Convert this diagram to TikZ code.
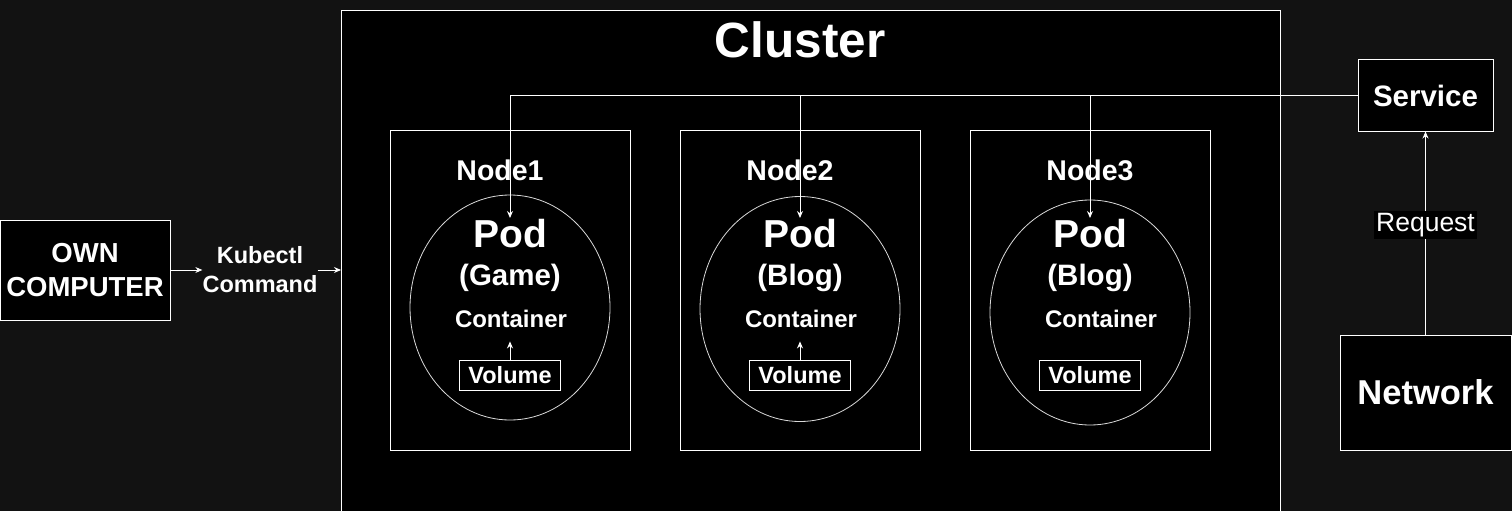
\documentclass[tikz,border=0pt]{standalone}
\usepackage{fontspec}
\setmainfont{Liberation Sans}
\usetikzlibrary{arrows.meta, shapes.geometric, positioning}
\definecolor{canvas}{RGB}{18,18,18}
\newcommand{\pxfont}[2]{\fontsize{#1}{#2}\selectfont}
\tikzset{
  box/.style={draw=white, fill=black, text=white, line width=1pt, inner sep=0pt, font=\bfseries},
  lbl/.style={text=white, font=\bfseries, anchor=base, inner sep=0pt},
  podshape/.style={ellipse, draw=white!85!black, line width=0.8pt, inner sep=0pt},
  link/.style={draw=white, line width=1pt, -{Stealth[length=7pt,width=6pt]}},
}
\begin{document}
\begin{tikzpicture}[x=1pt, y=-1pt]
\fill[canvas] (0,0) rectangle (1512,511);
\useasboundingbox (0,0) rectangle (1512,511);

% Left side: own computer and command
\node[box, minimum width=170, minimum height=100, align=center, font=\bfseries\pxfont{27.5}{34}] (own) at (85,270) {OWN\\COMPUTER};
\node[lbl, anchor=center, align=center, font=\bfseries\pxfont{23.5}{29}] (kubectl) at (260,270) {Kubectl\\Command};

% Cluster
\node[box, minimum width=939, minimum height=505, anchor=north west] (cluster) at (341,10) {};
\node[lbl, font=\bfseries\pxfont{49.5}{49.5}] (clustertitle) at (800,58) {Cluster};

% Worker nodes with their pods
\foreach \i/\x/\lx/\ey/\kind in {1/510/500/307.5/Game, 2/800/790/309/Blog, 3/1090/1090/312.5/Blog} {
    \node[box, minimum width=240, minimum height=320] (node\i) at (\x,290) {};
    \node[lbl, font=\bfseries\pxfont{28.5}{28.5}] (nodelbl\i) at (\lx,180) {Node\i};
    \node[podshape, minimum width=200, minimum height=225] (pod\i) at (\x,\ey) {};
    \node[lbl, font=\bfseries\pxfont{39}{39}] (podlbl\i) at (\x,247) {Pod};
    \node[lbl, font=\bfseries\pxfont{29.5}{29.5}] (kind\i) at (\x,285) {(\kind)};
    \node[box, minimum width=101, minimum height=30, font=\bfseries\pxfont{23.5}{23.5}] (vol\i) at (\x,375) {Volume};
    \coordinate (podin\i) at (\x,218);
}
\node[lbl, font=\bfseries\pxfont{24}{24}] (cont1) at (511,327) {Container};
\node[lbl, font=\bfseries\pxfont{24}{24}] (cont2) at (801,327) {Container};
\node[lbl, font=\bfseries\pxfont{24}{24}] (cont3) at (1101,327) {Container};

% Right side: service and network
\node[box, minimum width=135, minimum height=71, font=\bfseries\pxfont{29.5}{29.5}] (service) at (1425.5,95.5) {Service};
\node[box, minimum width=171, minimum height=115, font=\bfseries\pxfont{34.5}{34.5}] (network) at (1425.5,392.5) {Network};

% Connectors
\draw[link] (own.east) -- (kubectl.west);
\draw[link] (kubectl.east) -- (kubectl.east -| cluster.west);
\draw[link, shorten >=14pt] (vol1.north) -- (cont1.south -| vol1.north);
\draw[link, shorten >=14pt] (vol2.north) -- (cont2.south -| vol2.north);
\draw[link] (network.north) -- node[pos=0.54, fill=black, text=white, font=\pxfont{26.5}{26.5}, inner sep=2pt] (reqlbl) {Request} (service.south);
\foreach \i in {1,2,3}
    \draw[link] (service.west) -| (podin\i);
\end{tikzpicture}
\end{document}
